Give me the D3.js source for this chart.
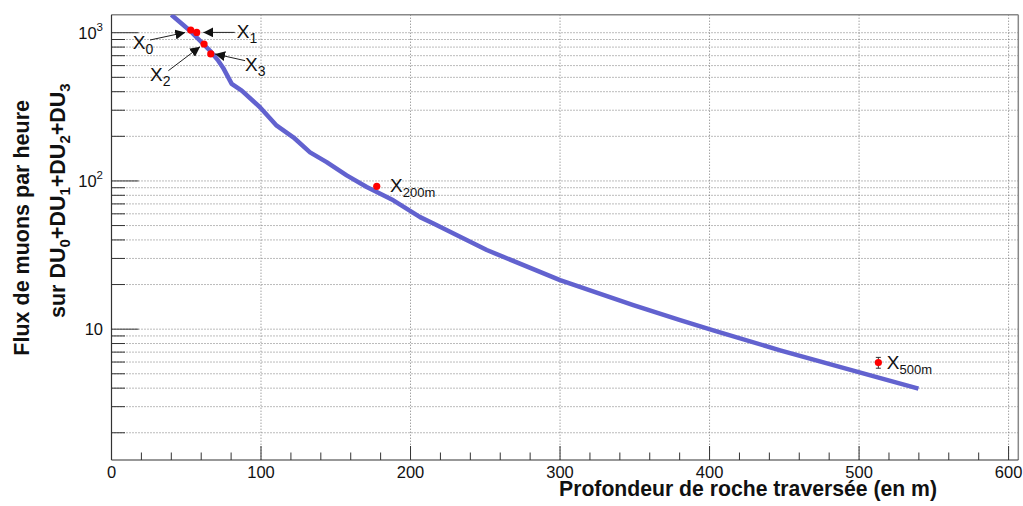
<!DOCTYPE html>
<html><head><meta charset="utf-8">
<script src="https://cdn.jsdelivr.net/npm/d3@7"></script>
<style>
body{margin:0;background:#fff;}
svg text{font-family:"Liberation Sans",Arial,sans-serif;}
</style></head>
<body><svg id="c" width="1023" height="506"></svg>
<script>
// ---- data ----
const curveX = [40, 52.5, 65.9, 71.4, 74.6, 80.4, 87.1, 99.3, 110.5, 121.6, 132.8, 143.9, 157.3, 170.7, 188.5, 206.4, 215.3, 251, 300, 349, 380.3, 402.5, 447.2, 498.5, 539.7];
const curveY = [1322, 1031, 756, 648, 581, 452, 407, 314, 236, 197, 156, 134, 109, 91, 74, 57, 51.6, 34.2, 21.4, 14.5, 11.5, 9.82, 7.2, 5.17, 3.97];
const pointNames = ["X", "X", "X", "X", "X", "X"];
const pointSubs = ["0", "1", "2", "3", "200m", "500m"];
const pointX = [53, 57, 61.9, 66.4, 177.4, 512.9];
const pointY = [1043, 1005, 839, 719, 92, 5.95];
const pointErr = [0, 0, 0, 0, 0, 0.5];
const xTicks = [0, 100, 200, 300, 400, 500, 600];
const yMajor = [10, 100, 1000];
const yMajorExp = ["", "2", "3"];
const xTitle = "Profondeur de roche traversée (en m)";
const yTitle1 = "Flux de muons par heure";

// ---- layout ----
const L = 111.5, R = 1018.3, T = 14.7, B = 460;
const x = d3.scaleLinear().domain([0, 606.5]).range([L, R]);
const y = d3.scaleLog().domain([1.31, 1323]).range([B, T]);
const svg = d3.select("#c");

// minor y ticks
const yAll = [];
for (let e = 0; e <= 3; e++) for (let m = 1; m <= 9; m++) { const v = m * Math.pow(10, e); if (v >= 1.31 && v <= 1323) yAll.push(v); }

// grid
const g = svg.append("g");
g.selectAll("line.hg").data(yAll).join("line")
  .attr("x1", L).attr("x2", R).attr("y1", d => y(d)).attr("y2", d => y(d))
  .attr("stroke", "#777").attr("stroke-width", 1).attr("stroke-dasharray", "1,2");
g.selectAll("line.vg").data(xTicks.filter(d => d > 0)).join("line")
  .attr("x1", d => x(d)).attr("x2", d => x(d)).attr("y1", T).attr("y2", B)
  .attr("stroke", "#777").attr("stroke-width", 1).attr("stroke-dasharray", "1,2");

// frame
svg.append("line").attr("x1", L).attr("x2", R).attr("y1", T).attr("y2", T).attr("stroke", "#888").attr("stroke-width", 1.5);
svg.append("line").attr("x1", R).attr("x2", R).attr("y1", T).attr("y2", B).attr("stroke", "#888").attr("stroke-width", 1.5);

// y axis
const ya = svg.append("g");
ya.append("line").attr("x1", L).attr("x2", L).attr("y1", T).attr("y2", B).attr("stroke", "#333").attr("stroke-width", 1.2);
ya.selectAll("line.t").data(yAll).join("line")
  .attr("x1", L).attr("x2", d => L + (yMajor.includes(d) ? 27 : 13.5))
  .attr("y1", d => y(d)).attr("y2", d => y(d)).attr("stroke", "#333").attr("stroke-width", 1);
yMajor.forEach((v, i) => {
  const t = ya.append("text").attr("x", 103).attr("y", y(v) + 6).attr("text-anchor", "end")
    .attr("font-size", 16.5).attr("fill", "#111");
  t.append("tspan").text("10");
  if (yMajorExp[i]) t.append("tspan").attr("dy", -8).attr("font-size", 11.5).text(yMajorExp[i]);
});

// x axis
const xMinor = d3.range(0, 601, 20);
const xa = svg.append("g");
xa.append("line").attr("x1", L).attr("x2", R).attr("y1", B).attr("y2", B).attr("stroke", "#333").attr("stroke-width", 1.2);
xa.selectAll("line.t").data(xMinor).join("line")
  .attr("x1", d => x(d)).attr("x2", d => x(d)).attr("y1", B)
  .attr("y2", d => B - (d % 100 === 0 ? 14 : 7.5)).attr("stroke", "#333").attr("stroke-width", 1);
xa.selectAll("text").data(xTicks).join("text")
  .attr("x", d => x(d)).attr("y", 477.5).attr("text-anchor", "middle")
  .attr("font-size", 16.5).attr("fill", "#111").text(d => d);

// titles
svg.append("text").attr("x", 937).attr("y", 496).attr("text-anchor", "end")
  .attr("font-size", 21.2).attr("font-weight", "bold").attr("fill", "#111").text(xTitle);
svg.append("text").attr("transform", "translate(28.5,100) rotate(-90)").attr("text-anchor", "end")
  .attr("font-size", 21.5).attr("font-weight", "bold").attr("fill", "#111").text(yTitle1);
const yt2 = svg.append("text").attr("transform", "translate(64.5,318) rotate(-90)").attr("text-anchor", "start")
  .attr("font-size", 21.5).attr("font-weight", "bold").attr("fill", "#111");
["0", "1", "2", "3"].forEach((s, i) => {
  yt2.append("tspan").attr("dy", i === 0 ? 0 : -5).text((i === 0 ? "sur DU" : "+DU"));
  yt2.append("tspan").attr("dy", 5).attr("font-size", 15).text(s);
});

// clip
svg.append("clipPath").attr("id", "clip").append("rect").attr("x", L).attr("y", T).attr("width", R - L).attr("height", B - T);

// curve
const line = d3.line().x(d => x(d[0])).y(d => y(d[1]));
svg.append("path").attr("clip-path", "url(#clip)")
  .datum(curveX.map((v, i) => [v, curveY[i]]))
  .attr("d", line).attr("fill", "none").attr("stroke", "#6262cf").attr("stroke-width", 4.5)
  .attr("stroke-linejoin", "round");

// error bars
pointX.forEach((v, i) => {
  if (!pointErr[i]) return;
  const px = x(v), y1 = y(pointY[i] + pointErr[i]), y2 = y(pointY[i] - pointErr[i]);
  svg.append("line").attr("x1", px).attr("x2", px).attr("y1", y1).attr("y2", y2).attr("stroke", "#333").attr("stroke-width", 1);
  [y1, y2].forEach(yy => svg.append("line").attr("x1", px - 2.5).attr("x2", px + 2.5).attr("y1", yy).attr("y2", yy).attr("stroke", "#333").attr("stroke-width", 1));
});
// points
svg.selectAll("circle.p").data(pointX).join("circle")
  .attr("cx", d => x(d)).attr("cy", (d, i) => y(pointY[i])).attr("r", 3.6).attr("fill", "#ff0000");

// labels: offsets (px) of label baseline from point, and arrows [tailDx, tailDy, tipDx, tipDy]
const labelOff = [[-58, 19], [40, 6], [-54, 36.7], [34.3, 16.7], [13.3, 5.7], [8.4, 6]];
const arrows = [[-40.7, 10, -5.5, 2.4], [38, 0, 6.6, 0], [-35.7, 26.7, -4, 2.7], [34.3, 6.7, 4.3, 0], null, null];
const defs = svg.append("defs");
defs.append("marker").attr("id", "ah").attr("viewBox", "0 0 10 10").attr("refX", 10).attr("refY", 5)
  .attr("markerWidth", 10).attr("markerHeight", 10).attr("markerUnits", "userSpaceOnUse").attr("orient", "auto")
  .append("path").attr("d", "M0,0 L10,5 L0,10 z").attr("fill", "#111");
pointX.forEach((v, i) => {
  const px = x(v), py = y(pointY[i]);
  const a = arrows[i];
  if (a) svg.append("line").attr("x1", px + a[0]).attr("y1", py + a[1]).attr("x2", px + a[2]).attr("y2", py + a[3])
    .attr("stroke", "#222").attr("stroke-width", 1).attr("marker-end", "url(#ah)");
  const t = svg.append("text").attr("x", px + labelOff[i][0]).attr("y", py + labelOff[i][1])
    .attr("font-size", 19).attr("fill", "#111");
  t.append("tspan").text(pointNames[i]);
  t.append("tspan").attr("dy", 5).attr("font-size", pointSubs[i].length > 1 ? 13 : 14).text(pointSubs[i]);
});
</script></body></html>
